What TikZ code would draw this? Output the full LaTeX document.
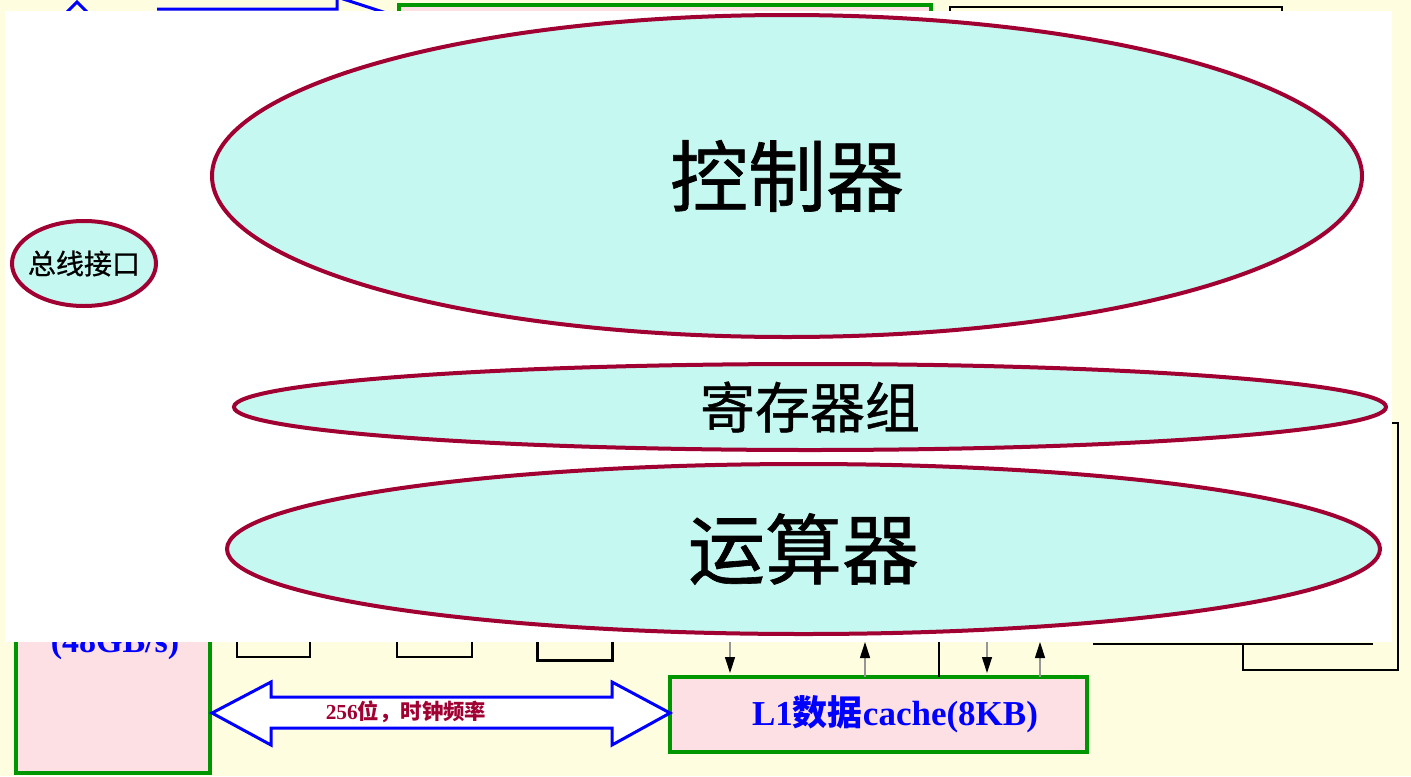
\documentclass[tikz,border=0pt]{standalone}
\usepackage{fontspec}
\setmainfont{Liberation Serif}
\newfontfamily\cjk{Noto Sans CJK SC}
\newfontfamily\cjkm[FakeBold=0.8]{Noto Sans CJK SC}
\usetikzlibrary{shapes.geometric,arrows.meta}
\definecolor{bgcream}{RGB}{255,253,224}
\definecolor{boxpink}{RGB}{252,224,228}
\definecolor{boxgreen}{RGB}{0,150,0}
\definecolor{ellfill}{RGB}{196,248,240}
\definecolor{elldraw}{RGB}{160,0,50}
\definecolor{busblue}{RGB}{0,0,255}
\definecolor{txtred}{RGB}{160,0,50}
\definecolor{arrgray}{RGB}{150,150,150}
\begin{document}
\begin{tikzpicture}[x=0.5pt,y=-0.5pt,
  greenbox/.style={draw=boxgreen,fill=boxpink,line width=1.7pt,inner sep=0pt,outer sep=0pt},
  blackbox/.style={draw=black,line width=1pt,inner sep=0pt,outer sep=0pt},
  busarrow/.style={draw=busblue,fill=white,line width=1.5pt,line join=miter},
  oval/.style={ellipse,draw=elldraw,fill=ellfill,line width=2pt,inner sep=0pt,text=black},
  downarr/.style={draw=arrgray,line width=0.6pt,-{Triangle[length=8pt,width=5pt,color=black]}},
  blackline/.style={draw=black,line width=1pt},
]
\useasboundingbox (0,0) rectangle (1411,776);
\fill[bgcream] (0,0) rectangle (1411,776);

% ---- partially hidden layer ----
\draw[busblue,line width=1.5pt] (65,14) -- (77,2) -- (89,14);
\draw[busblue,line width=1.5pt,line join=miter] (157,9) -- (337,9) -- (337,-3) -- (420,24);
\node[greenbox,anchor=north west,minimum width=266pt,minimum height=60pt] (topbox) at (399,5) {};
\node[blackbox,anchor=north west,minimum width=166pt,minimum height=60pt] (rbox) at (950,7) {};

\node[greenbox,anchor=south west,minimum width=97pt,minimum height=150pt] (mem) at (16,773) {};
\node[font=\bfseries\fontsize{17}{20}\selectfont,text=busblue,anchor=base] (bw) at (115,652) {(48GB/s)};

\node[blackbox,anchor=south west,minimum width=36.5pt,minimum height=30pt] (r1) at (237,657) {};
\node[blackbox,anchor=south west,minimum width=37.5pt,minimum height=30pt] (r2) at (397,657) {};
\node[blackbox,line width=1.5pt,anchor=south west,minimum width=37.5pt,minimum height=30pt] (r3) at (537,660) {};

\node[greenbox,line width=2.2pt,minimum width=208.5pt,minimum height=37.5pt] (l1) at (878.5,714.5) {};
\node[font=\bfseries\fontsize{17.5}{20}\selectfont,text=busblue] (l1txt) at (895,714) {L1{\cjk 数据}cache(8KB)};

\coordinate (busL) at (212,713);
\coordinate (busR) at (670,713);
\draw[busarrow] (busL) -- (271,682) -- (271,697) -- (612,697) -- (612,682) -- (busR)
  -- (612,745) -- (612,728) -- (271,728) -- (271,745) -- cycle;
\node[text=txtred,font=\bfseries\fontsize{10.7}{12}\selectfont] (buslbl) at (406,712) {256{\cjk 位，时钟频率}};

\coordinate (d1) at (730,641);
\coordinate (u1) at (865,642);
\coordinate (v1) at (939,640);
\coordinate (d2) at (987,641);
\coordinate (u2) at (1040,642);
\draw[downarr,shorten >=2pt] (d1) -- (d1 |- l1.north);
\draw[downarr] (u1 |- l1.north) -- (u1);
\draw[black,line width=0.9pt] (v1) -- (v1 |- l1.north);
\draw[downarr,shorten >=2pt] (d2) -- (d2 |- l1.north);
\draw[downarr] (u2 |- l1.north) -- (u2);

\draw[blackline] (1093,644) -- (1373,644);
\draw[blackline] (1243,644) -- (1243,670) -- (1398,670) -- (1398,423) -- (1390,423);

% ---- white overlay ----
\fill[white] (5,11) rectangle (1392,642);

\node[oval,minimum width=575pt,minimum height=161pt,font=\cjkm\fontsize{39}{44}\selectfont] (ctrl) at (787,176) {控制器};
\node[oval,minimum width=576pt,minimum height=43pt,font=\cjkm\fontsize{27.5}{30}\selectfont] (regs) at (810,407) {寄存器组};
\node[oval,minimum width=576.5pt,minimum height=85pt,font=\cjkm\fontsize{38.5}{44}\selectfont] (alu) at (803.5,549) {运算器};
\node[oval,minimum width=72pt,minimum height=42.5pt,font=\cjkm\fontsize{14}{16}\selectfont] (busif) at (84,263.5) {\makebox[0pt]{总线接口}};
\end{tikzpicture}
\end{document}
